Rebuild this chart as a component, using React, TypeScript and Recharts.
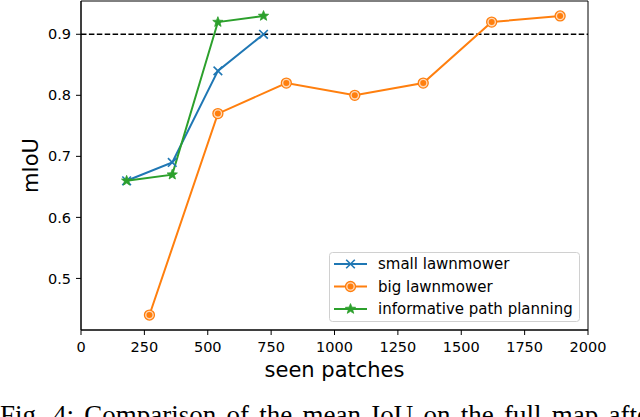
import React from "react";
import { LineChart, Line, XAxis, YAxis, ReferenceLine, ReferenceArea } from "recharts";

const smallX = [180, 360, 540, 720];
const smallY = [0.66, 0.69, 0.84, 0.9];
const bigX = [270, 540, 810, 1080, 1350, 1620, 1890];
const bigY = [0.44, 0.77, 0.82, 0.8, 0.82, 0.92, 0.93];
const ippX = [180, 360, 540, 720];
const ippY = [0.66, 0.67, 0.92, 0.93];

const xTicks = [0, 250, 500, 750, 1000, 1250, 1500, 1750, 2000];
const yTicks = [0.5, 0.6, 0.7, 0.8, 0.9];
const seriesNames = ["small lawnmower", "big lawnmower", "informative path planning"];
const colors = ["#1f77b4", "#ff7f0e", "#2ca02c"];
const threshold = 0.9;
const xLabel = "seen patches";
const yLabel = "mIoU";
const caption = "Fig. 4: Comparison of the mean IoU on the full map after";

const Y_MIN = 0.4155;
const Y_MAX = 0.9545;

const toRows = (xs: number[], ys: number[]) => xs.map((x, i) => ({ x, y: ys[i] }));
const smallData = toRows(smallX, smallY);
const bigData = toRows(bigX, bigY);
const ippData = toRows(ippX, ippY);

const FONT = "'DejaVu Sans', sans-serif";

function XMark({ cx, cy, color }: { cx: number; cy: number; color: string }) {
  const r = 4.3;
  return (
    <g>
      <line x1={cx - r} y1={cy - r} x2={cx + r} y2={cy + r} stroke={color} strokeWidth={1.6} />
      <line x1={cx - r} y1={cy + r} x2={cx + r} y2={cy - r} stroke={color} strokeWidth={1.6} />
    </g>
  );
}

function Target({ cx, cy, color }: { cx: number; cy: number; color: string }) {
  return (
    <g>
      <circle cx={cx} cy={cy} r={5} fill="#ffd9b8" stroke={color} strokeWidth={1.3} />
      <circle cx={cx} cy={cy} r={3} fill={color} />
    </g>
  );
}

function Star({ cx, cy, color }: { cx: number; cy: number; color: string }) {
  const outer = 5.4;
  const inner = 2.3;
  const pts: string[] = [];
  for (let i = 0; i < 10; i++) {
    const r = i % 2 === 0 ? outer : inner;
    const a = -Math.PI / 2 + (i * Math.PI) / 5;
    pts.push(`${cx + r * Math.cos(a)},${cy + r * Math.sin(a)}`);
  }
  return <polygon points={pts.join(" ")} fill={color} stroke={color} strokeWidth={0.8} strokeLinejoin="miter" />;
}

const markers = [XMark, Target, Star];

function dotFor(idx: number) {
  const M = markers[idx];
  return (props: any) => {
    const { cx, cy, index } = props;
    if (cx == null || cy == null) return <g key={`d${idx}-${index}`} />;
    return (
      <g key={`d${idx}-${index}`}>
        <M cx={cx} cy={cy} color={colors[idx]} />
      </g>
    );
  };
}

export default function App() {
  const legendRows = [264, 286.5, 309];
  return (
    <div style={{ position: "relative", width: 640, height: 417, overflow: "hidden", background: "#fff" }}>
      <style>{`body{margin:0;}`}</style>
      <LineChart width={640} height={417} margin={{ top: 1, right: 52, bottom: 0, left: 0 }}>
        <XAxis
          type="number"
          dataKey="x"
          domain={[0, 2000]}
          ticks={xTicks}
          allowDataOverflow
          height={87}
          tickSize={5}
          tickMargin={7}
          stroke="#000"
          tick={{ fill: "#000", fontSize: 14.5, fontFamily: FONT }}
          axisLine={{ stroke: "#000", strokeWidth: 1 }}
          tickLine={{ stroke: "#000", strokeWidth: 1 }}
        />
        <YAxis
          type="number"
          dataKey="y"
          domain={[Y_MIN, Y_MAX]}
          ticks={yTicks}
          allowDataOverflow
          width={81}
          tickSize={5}
          tickMargin={5}
          stroke="#000"
          tickFormatter={(v: number) => v.toFixed(1)}
          tick={{ fill: "#000", fontSize: 14.5, fontFamily: FONT }}
          axisLine={{ stroke: "#000", strokeWidth: 1 }}
          tickLine={{ stroke: "#000", strokeWidth: 1 }}
        />
        <ReferenceArea x1={0} x2={2000} y1={Y_MIN} y2={Y_MAX} fill="none" fillOpacity={0} stroke="#000" strokeWidth={1} ifOverflow="visible" />
        <ReferenceLine y={threshold} stroke="#000" strokeWidth={1.5} strokeDasharray="5.5 2.4" />
        <Line data={smallData} dataKey="y" name={seriesNames[0]} stroke={colors[0]} strokeWidth={2} dot={dotFor(0)} activeDot={false} isAnimationActive={false} />
        <Line data={bigData} dataKey="y" name={seriesNames[1]} stroke={colors[1]} strokeWidth={2} dot={dotFor(1)} activeDot={false} isAnimationActive={false} />
        <Line data={ippData} dataKey="y" name={seriesNames[2]} stroke={colors[2]} strokeWidth={2} dot={dotFor(2)} activeDot={false} isAnimationActive={false} />
      </LineChart>
      <svg width={640} height={417} style={{ position: "absolute", left: 0, top: 0, pointerEvents: "none" }}>
        <text x={334.5} y={377} textAnchor="middle" fontSize={21} fontFamily={FONT} fill="#000">
          {xLabel}
        </text>
        <text x={37.5} y={165.5} textAnchor="middle" fontSize={21} fontFamily={FONT} fill="#000" transform="rotate(-90 37.5 165.5)">
          {yLabel}
        </text>
        <rect x={329.5} y={252.5} width={250} height={69} rx={3} fill="#fff" fillOpacity={0.85} stroke="#d0d0d0" strokeWidth={1} />
        {seriesNames.map((name, i) => {
          const M = markers[i];
          const y = legendRows[i];
          return (
            <g key={name}>
              <line x1={334} y1={y} x2={367} y2={y} stroke={colors[i]} strokeWidth={2} />
              <M cx={350.5} cy={y} color={colors[i]} />
              <text x={378} y={y} dy="0.36em" fontSize={15} fontFamily={FONT} fill="#000">
                {name}
              </text>
            </g>
          );
        })}
        <text x={0} y={424} fontSize={27} fontFamily="'Liberation Serif', 'Times New Roman', serif" wordSpacing={3.5} fill="#000">
          {caption}
        </text>
      </svg>
    </div>
  );
}
